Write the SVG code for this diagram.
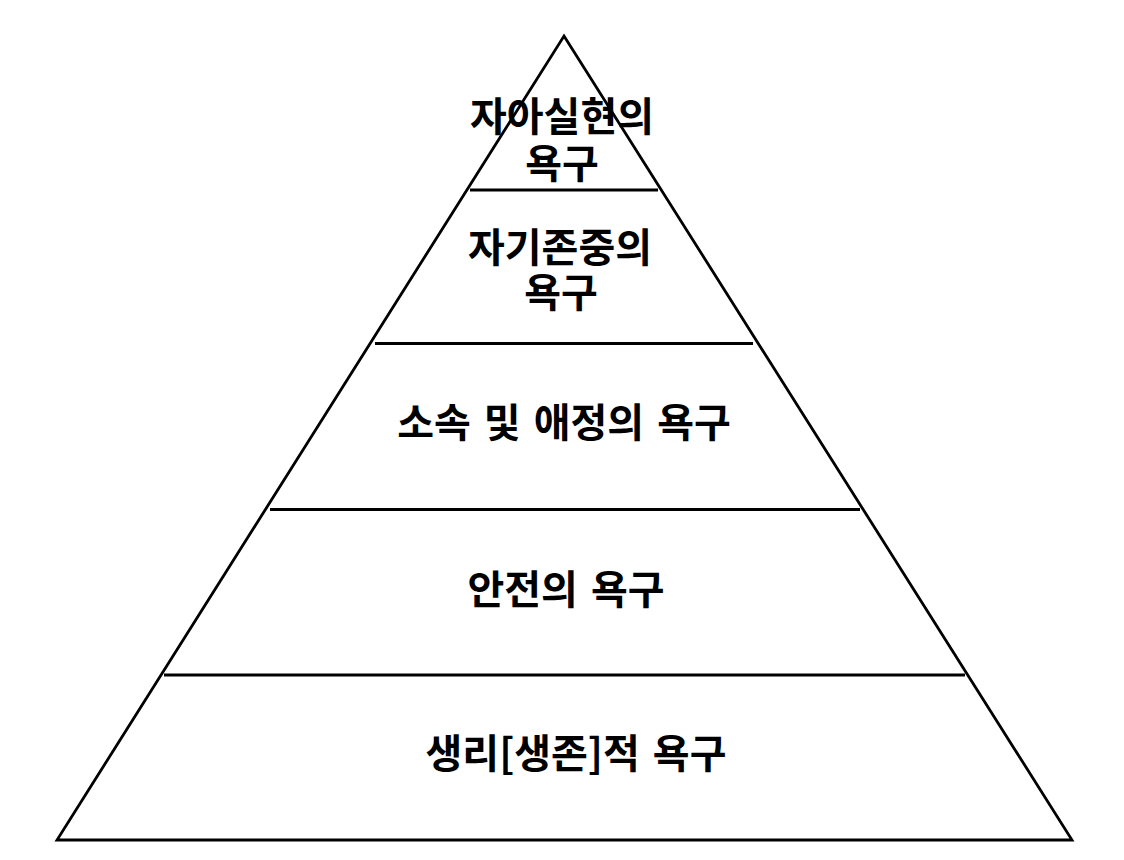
<svg xmlns="http://www.w3.org/2000/svg" width="1124" height="860" viewBox="0 0 1124 860">
<style>
.edge{stroke:#000;stroke-width:2.8;fill:none;stroke-linejoin:miter}
.div{stroke:#000;stroke-width:2.8}
.lbl{font-family:"Noto Sans CJK KR","Malgun Gothic",sans-serif;font-weight:bold;font-size:40px;fill:#000;text-anchor:middle;word-spacing:4px}
</style>
<rect width="1124" height="860" fill="#fff"/>
<g id="pyramid">
<polygon class="edge" points="564,36 1072,840 57,840"/>
</g>
<g id="connectors">
<line class="div" x1="470" y1="190" x2="658" y2="190"/>
<line class="div" x1="375" y1="343.5" x2="753" y2="343.5"/>
<line class="div" x1="270" y1="509.5" x2="860" y2="509.5"/>
<line class="div" x1="164" y1="675" x2="965" y2="675"/>
</g>
<g id="tier1"><text class="lbl" x="562" y="131">자아실현의</text><text class="lbl" x="562" y="178">욕구</text></g>
<g id="tier2"><text class="lbl" x="560" y="262">자기존중의</text><text class="lbl" x="561" y="307">욕구</text></g>
<g id="tier3"><text class="lbl" x="564" y="437">소속 및 애정의 욕구</text></g>
<g id="tier4"><text class="lbl" x="566" y="604">안전의 욕구</text></g>
<g id="tier5"><text class="lbl" x="576" y="768">생리[생존]적 욕구</text></g>
</svg>
